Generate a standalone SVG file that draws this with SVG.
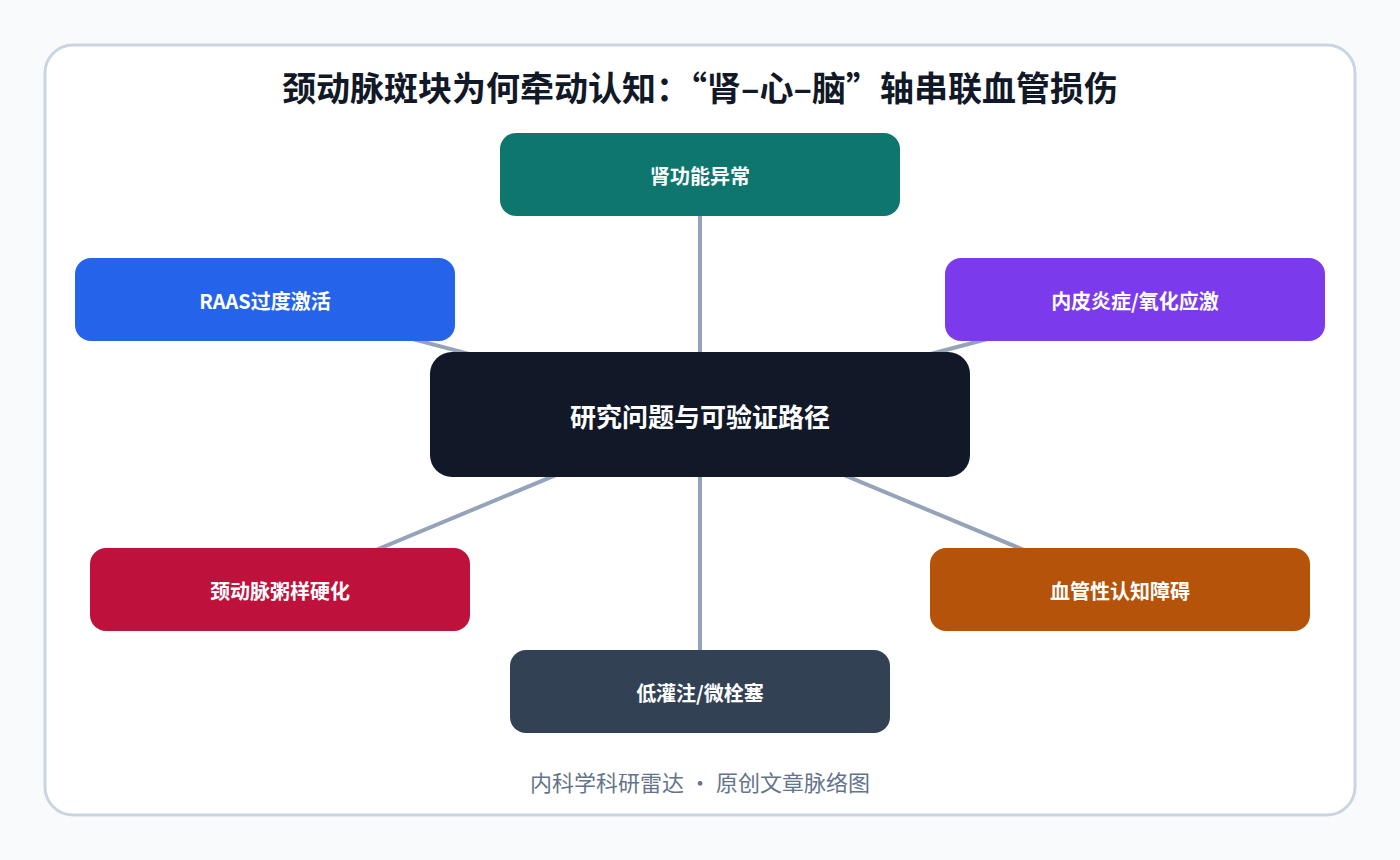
<svg xmlns="http://www.w3.org/2000/svg" width="1400" height="860" viewBox="0 0 1400 860">
<style>
.t{font-family:"Noto Sans CJK SC","Liberation Sans",sans-serif;text-anchor:middle;dominant-baseline:central}
.title{font-size:34px;font-weight:700;fill:#111827}
.nl{font-size:20px;font-weight:700;fill:#ffffff}
.cl{font-size:26px;font-weight:700;fill:#ffffff}
.ft{font-size:22px;fill:#64748b}
.edge{stroke:#94a3b8;stroke-width:4;stroke-linecap:round;fill:none}
</style>
<rect x="0" y="0" width="1400" height="860" fill="#f8fafc"/>
<rect x="45" y="45" width="1310" height="770" rx="28" fill="#ffffff" stroke="#cbd5e1" stroke-width="3"/>
<text class="t title" x="700" y="86">颈动脉斑块为何牵动认知：“肾–心–脑”轴串联血管损伤</text>
<g id="connectors">
<line class="edge" x1="700" y1="415" x2="700" y2="175"/>
<line class="edge" x1="700" y1="415" x2="265" y2="300"/>
<line class="edge" x1="700" y1="415" x2="1135" y2="300"/>
<line class="edge" x1="700" y1="415" x2="280" y2="590"/>
<line class="edge" x1="700" y1="415" x2="1120" y2="590"/>
<line class="edge" x1="700" y1="415" x2="700" y2="692"/>
</g>
<g id="n-kidney"><rect x="500" y="133" width="400" height="83" rx="16" fill="#0f766e"/><text class="t nl" x="700" y="175">肾功能异常</text></g>
<g id="n-raas"><rect x="75" y="258" width="380" height="83" rx="16" fill="#2563eb"/><text class="t nl" x="265" y="300">RAAS过度激活</text></g>
<g id="n-endo"><rect x="945" y="258" width="380" height="83" rx="16" fill="#7c3aed"/><text class="t nl" x="1135" y="300">内皮炎症/氧化应激</text></g>
<g id="n-center"><rect x="430" y="352" width="540" height="125" rx="22" fill="#111827"/><text class="t cl" x="700" y="415">研究问题与可验证路径</text></g>
<g id="n-carotid"><rect x="90" y="548" width="380" height="83" rx="16" fill="#be123c"/><text class="t nl" x="280" y="590">颈动脉粥样硬化</text></g>
<g id="n-vci"><rect x="930" y="548" width="380" height="83" rx="16" fill="#b45309"/><text class="t nl" x="1120" y="590">血管性认知障碍</text></g>
<g id="n-hypo"><rect x="510" y="650" width="380" height="83" rx="16" fill="#334155"/><text class="t nl" x="700" y="692">低灌注/微栓塞</text></g>
<text class="t ft" x="700" y="781">内科学科研雷达 · 原创文章脉络图</text>
</svg>
